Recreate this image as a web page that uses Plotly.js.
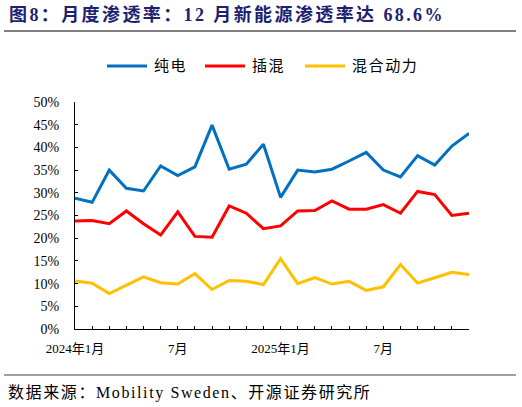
<!DOCTYPE html>
<html><head><meta charset="utf-8">
<script src="https://cdn.plot.ly/plotly-3.0.1.min.js"></script>
<style>html,body{margin:0;padding:0;background:#fff;}#chart{width:522px;height:407px;}</style>
</head><body><div id="chart"></div>
<script>
const months = ["2024-01","2024-02","2024-03","2024-04","2024-05","2024-06","2024-07","2024-08","2024-09","2024-10","2024-11","2024-12",
"2025-01","2025-02","2025-03","2025-04","2025-05","2025-06","2025-07","2025-08","2025-09","2025-10","2025-11","2025-12"];
const tickLabels = ["2024年1月","","","","","","7月","","","","","","2025年1月","","","","","","7月","","","","",""];
const seriesNames = ["纯电","插混","混合动力"];
const bev = [28.8,27.9,35.0,31.0,30.4,35.9,33.8,35.7,44.9,35.2,36.3,40.7,29.0,35.0,34.6,35.2,37.0,38.9,35.0,33.5,38.2,36.1,40.3,43.1];
const phev = [23.8,23.9,23.2,26.0,23.2,20.7,25.8,20.4,20.2,27.1,25.5,22.1,22.7,26.0,26.1,28.2,26.4,26.4,27.4,25.5,30.3,29.6,25.0,25.5];
const hev = [10.6,10.1,7.8,9.6,11.5,10.2,9.9,12.2,8.7,10.7,10.5,9.8,15.5,10.0,11.3,9.9,10.5,8.5,9.3,14.2,10.1,11.3,12.5,12.0];
const yTicks = [0,5,10,15,20,25,30,35,40,45,50];
const colors = ['#0070C0','#FF0000','#FFC000'];

const idx = months.map((m,i)=>i);
const serif = '"Liberation Serif","Times New Roman","Noto Sans CJK SC",serif';
const W = 394, H = 227; // plot area size
const px = x => (x-75)/W, py = y => (329-y)/H;
const data = [bev,phev,hev].map((y,i)=>({x:idx,y:y,name:seriesNames[i],type:'scatter',mode:'lines',line:{color:colors[i],width:3}}));

const legendX = [[107,147,152],[205,245,250],[305,345,350]];
const shapes = [
  {type:'line',xref:'paper',yref:'paper',x0:px(4),x1:px(516),y0:py(31),y1:py(31),line:{color:'#808080',width:2}},
  {type:'line',xref:'paper',yref:'paper',x0:px(4),x1:px(516),y0:py(375),y1:py(375),line:{color:'#808080',width:1.5}}
];
const annotations = [
  {xref:'paper',yref:'paper',x:px(7),y:py(15),xanchor:'left',yanchor:'middle',showarrow:false,
   text:'<b>图8：月度渗透率：12 月新能源渗透率达 68.6%</b>',font:{size:18,color:'#1C2270',family:serif}},
  {xref:'paper',yref:'paper',x:px(6),y:py(393),xanchor:'left',yanchor:'middle',showarrow:false,
   text:'数据来源：Mobility Sweden、开源证券研究所',font:{size:16,color:'#000',family:serif}}
];
const spacing = [2.4,1.6];
seriesNames.forEach((n,i)=>{
  const [a,b,t] = legendX[i];
  shapes.push({type:'line',xref:'paper',yref:'paper',x0:px(a),x1:px(b),y0:py(66),y1:py(66),line:{color:colors[i],width:3}});
  annotations.push({xref:'paper',yref:'paper',x:px(t),y:py(66),xanchor:'left',yanchor:'middle',showarrow:false,
    text:n,font:{size:15,color:'#000',family:serif}});
  spacing.push(1.6);
});

const layout = {
  width:522,height:407,
  margin:{l:75,r:53,t:102,b:78},
  paper_bgcolor:'#fff',plot_bgcolor:'#fff',
  font:{family:serif,size:13,color:'#000'},
  showlegend:false,
  xaxis:{range:[0,23],tickmode:'array',tickvals:idx,ticktext:tickLabels,ticks:'inside',ticklen:3,tickcolor:'#000',
    showline:true,linecolor:'#000',linewidth:1,showgrid:false,zeroline:false,tickangle:0,tickfont:{size:13,family:serif},ticklabelstandoff:7},
  yaxis:{range:[0,50],tickmode:'array',tickvals:yTicks,ticktext:yTicks.map(v=>v+'%'),ticks:'inside',ticklen:3,tickcolor:'#000',
    showline:true,linecolor:'#000',linewidth:1,showgrid:false,zeroline:false,tickfont:{size:14,family:serif},ticklabelstandoff:12},
  shapes:shapes,
  annotations:annotations
};
Plotly.newPlot('chart',data,layout,{displayModeBar:false,staticPlot:true}).then(gd=>{
  const texts = gd.querySelectorAll('.annotation-text');
  texts.forEach((t,i)=>{
    if(!spacing[i]) return;
    const b0 = t.getBBox();
    t.setAttribute('letter-spacing', spacing[i]+'px');
    t.setAttribute('text-anchor','start');
    t.setAttribute('x', b0.x);
    t.querySelectorAll('tspan[x]').forEach(s=>s.setAttribute('x', b0.x));
  });
});
</script></body></html>
